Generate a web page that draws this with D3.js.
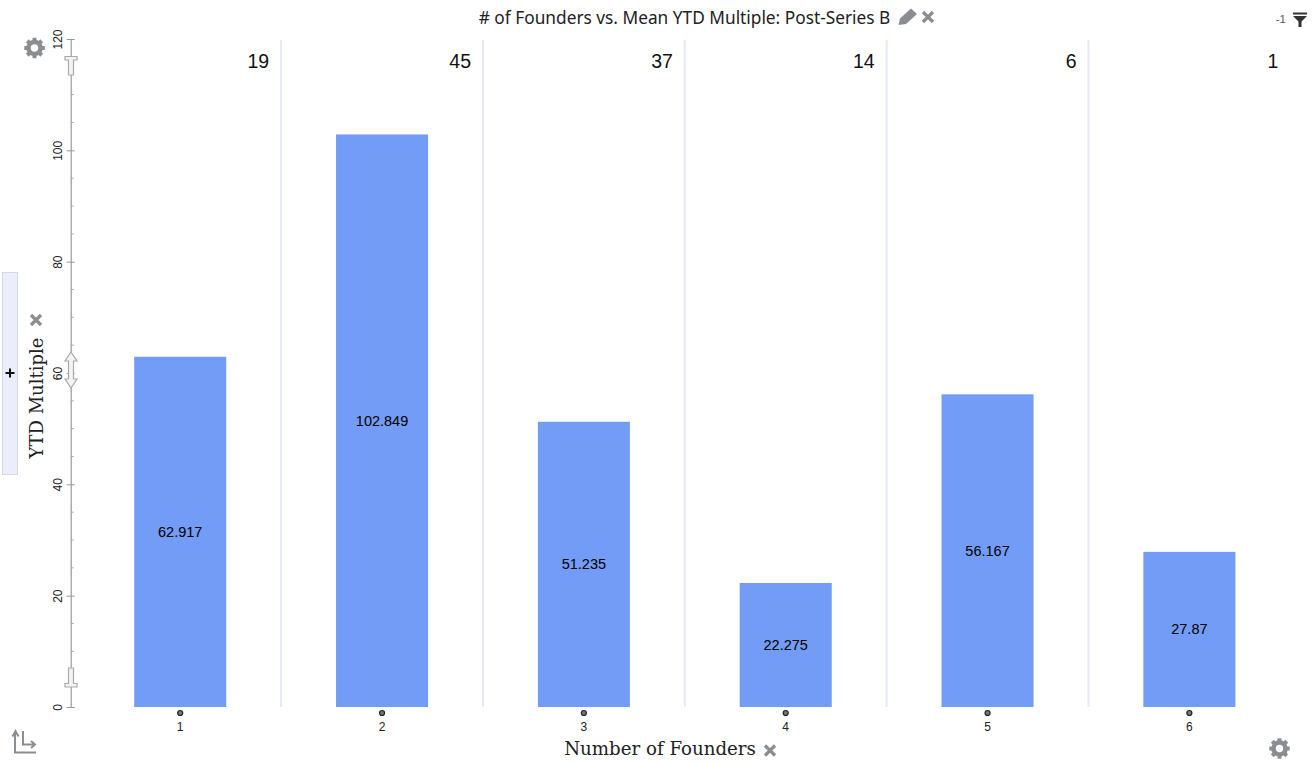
<!DOCTYPE html>
<html><head><meta charset="utf-8">
<script src="https://cdn.jsdelivr.net/npm/d3@7"></script>
<style>html,body{margin:0;padding:0;background:#fff;overflow:hidden}svg{display:block}</style>
</head><body><svg id="c" width="1315" height="763"></svg>
<script>
const categories = ["1","2","3","4","5","6"];
const meanValues = [62.917,102.849,51.235,22.275,56.167,27.87];
const counts = [19,45,37,14,6,1];
const yTicks = [0,20,40,60,80,100,120];
const minorTicks = [5,10,15,25,30,35,45,50,55,65,70,75,85,90,95,105,110,115];
const title = "# of Founders vs. Mean YTD Multiple: Post-Series B";
const xTitle = "Number of Founders";
const yTitle = "YTD Multiple";

const svg = d3.select("#c");
const sans = "'Liberation Sans',Arial,sans-serif";
const y = d3.scaleLinear().domain([0,120]).range([707,39]);
const x = d3.scaleBand().domain(categories).range([79.3,1290.3]).paddingInner(0.544).paddingOuter(0.272);
const step = x.step();

// separators
svg.append("g").selectAll("line").data(categories.slice(0,-1)).join("line")
  .attr("x1",d=>x(d)+x.bandwidth()/2+step/2).attr("x2",d=>x(d)+x.bandwidth()/2+step/2)
  .attr("y1",40).attr("y2",707).attr("stroke","#e6e7f8").attr("stroke-width",2);

// bars
svg.append("g").selectAll("rect").data(categories).join("rect")
  .attr("x",d=>x(d)).attr("width",x.bandwidth())
  .attr("y",(d,i)=>y(meanValues[i])).attr("height",(d,i)=>y(0)-y(meanValues[i]))
  .attr("fill","#739cf6");
svg.append("g").selectAll("text").data(categories).join("text")
  .attr("x",d=>x(d)+x.bandwidth()/2).attr("y",(d,i)=>y(meanValues[i]/2)+5)
  .attr("text-anchor","middle").attr("font-family",sans).attr("font-size",14.5).attr("fill","#000")
  .text((d,i)=>meanValues[i]);

// counts
svg.append("g").selectAll("text").data(categories).join("text")
  .attr("x",d=>x(d)+x.bandwidth()/2+89).attr("y",68)
  .attr("text-anchor","end").attr("font-family",sans).attr("font-size",19.5).attr("fill","#111")
  .text((d,i)=>counts[i]);

// y axis
const ax = 70.7;
const yAxis = d3.axisLeft(y).tickValues(yTicks).tickSize(8).tickSizeOuter(0).tickPadding(4);
const gy = svg.append("g").attr("transform",`translate(${ax},0)`).call(yAxis);
gy.select(".domain").attr("stroke","#999").attr("stroke-width",1.2);
gy.selectAll(".tick line").attr("stroke","#999").attr("x2",4).attr("x1",-4);
gy.selectAll(".tick text").attr("font-family",sans).attr("font-size",12).attr("fill","#222")
  .attr("text-anchor","middle").attr("dy",0).attr("x",0).attr("y",0)
  .attr("transform","translate(-8.5,0) rotate(-90)");
svg.append("g").selectAll("line").data(minorTicks).join("line")
  .attr("x1",ax).attr("x2",ax+3).attr("y1",d=>y(d)).attr("y2",d=>y(d)).attr("stroke","#aaa");

// brush handles
const hs = {fill:"#f3f3f3",stroke:"#aaa"};
svg.append("path").attr("d","M65 56.5H77V60H73.5V75H68.5V60H65Z").attr("fill",hs.fill).attr("stroke",hs.stroke).attr("stroke-width",1.2);
svg.append("path").attr("d","M65 687V683.5H68.5V668H73.5V683.5H77V687Z").attr("fill",hs.fill).attr("stroke",hs.stroke).attr("stroke-width",1.2);
svg.append("path").attr("d","M71 352L77 361H73.5V379H77L71 388L65 379H68.5V361H65Z").attr("fill",hs.fill).attr("stroke",hs.stroke).attr("stroke-width",1.2);

// x ticks
const gt = svg.append("g");
gt.selectAll("circle").data(categories).join("circle")
  .attr("cx",d=>x(d)+x.bandwidth()/2).attr("cy",713).attr("r",2.5)
  .attr("fill","#777").attr("stroke","#222").attr("stroke-width",1.2);
gt.selectAll("text").data(categories).join("text")
  .attr("x",d=>x(d)+x.bandwidth()/2).attr("y",731).attr("text-anchor","middle")
  .attr("font-family",sans).attr("font-size",12).attr("fill","#222").text(d=>d);

// titles
svg.append("text").attr("x",684.5).attr("y",23.5).attr("text-anchor","middle")
  .attr("font-family","'Noto Sans',sans-serif").attr("font-size",17.3).attr("fill","#222").text(title);
svg.append("text").attr("x",660).attr("y",755).attr("text-anchor","middle")
  .attr("font-family","'DejaVu Serif',serif").attr("font-size",18.2).attr("fill","#222").text(xTitle);
svg.append("text").attr("transform","translate(43,398) rotate(-90)").attr("text-anchor","middle")
  .attr("font-family","'DejaVu Serif',serif").attr("font-size",18).attr("fill","#222").text(yTitle);

// left "+" panel
svg.append("rect").attr("x",2.5).attr("y",272.5).attr("width",15).attr("height",202)
  .attr("fill","#ebedfb").attr("stroke","#d6d8e6");
svg.append("path").attr("d","M5.5 373H14.5M10 368.5V377.5").attr("stroke","#111").attr("stroke-width",2);

// icons
const grey="#8a8d92";
function cross(cx,cy){svg.append("path").attr("d",`M${cx-5} ${cy-5}L${cx+5} ${cy+5}M${cx+5} ${cy-5}L${cx-5} ${cy+5}`).attr("stroke",grey).attr("stroke-width",3.2).attr("fill","none");}
cross(928,17);cross(36,320);cross(770,750.5);
function gear(cx,cy){
  const g=svg.append("g").attr("transform",`translate(${cx},${cy})`);
  g.append("circle").attr("r",6).attr("fill","none").attr("stroke",grey).attr("stroke-width",4.6);
  g.selectAll("rect").data(d3.range(8)).join("rect").attr("x",-2).attr("y",-10.2).attr("width",4).attr("height",4)
   .attr("fill",grey).attr("transform",d=>`rotate(${d*45})`);
}
gear(34.5,48);gear(1279.5,748.5);
// pencil
svg.append("path").attr("d","M898.5 25L900 18.5L911 8.5L917 14L906 24Z").attr("fill",grey);
// filter funnel
svg.append("path").attr("d","M1293 12.5H1307V14.5H1293Z M1293 16H1307L1301.5 21.5V27H1298.5V21.5Z").attr("fill","#333");
svg.append("text").attr("x",1286).attr("y",23).attr("text-anchor","end").attr("font-family",sans).attr("font-size",11.5).attr("fill","#555").text("-1");
// axis swap icon
svg.append("path").attr("d","M15 733V752.5H36M12.5 736.5L15.5 731L18.5 736.5M23 731V744.5H34M31 741L35 744.5L31 748").attr("fill","none").attr("stroke",grey).attr("stroke-width",2);
</script></body></html>
